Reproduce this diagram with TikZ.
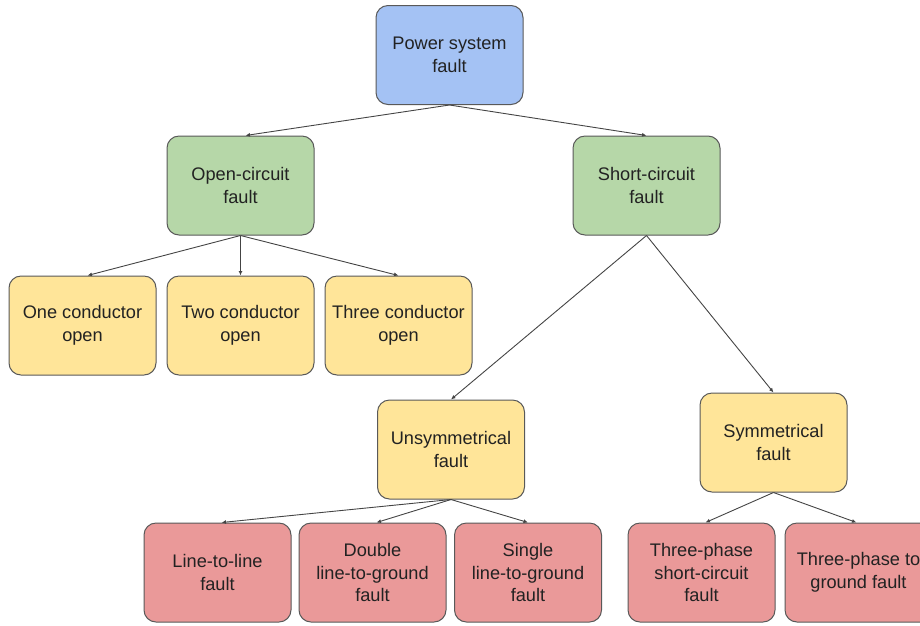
\documentclass[tikz,border=0pt]{standalone}
\usepackage{fontspec}
\setmainfont{Liberation Sans}
\usetikzlibrary{arrows.meta}
\definecolor{bluefill}{HTML}{A4C2F4}
\definecolor{greenfill}{HTML}{B6D7A8}
\definecolor{yellowfill}{HTML}{FFE599}
\definecolor{redfill}{HTML}{EA9999}
\definecolor{edgegray}{HTML}{595959}
\definecolor{linegray}{HTML}{444444}
\definecolor{textdark}{HTML}{222222}
\begin{document}
\begin{tikzpicture}[x=1pt,y=-1pt,
  box/.style={draw=edgegray, line width=1pt, rounded corners=12pt,
    minimum width=147pt, minimum height=99pt, inner sep=0pt,
    align=center, text=textdark, font=\fontsize{18.2}{22.5}\selectfont},
  link/.style={draw=linegray, line width=0.9pt,
    -{Latex[length=4.5pt,width=4pt]}}
]
\useasboundingbox (0,0) rectangle (920,625);
\clip (0,0) rectangle (920,625);

% level 0
\node[box, fill=bluefill] (root) at (449.5,55) {Power system\\fault};

% level 1
\node[box, fill=greenfill] (open)  at (240.5,185.5) {Open-circuit\\fault};
\node[box, fill=greenfill] (short) at (646.5,185.5) {Short-circuit\\fault};

% open-circuit children
\node[box, fill=yellowfill] (one)   at (82.5,325.5)  {One conductor\\open};
\node[box, fill=yellowfill] (two)   at (240.5,325.5) {Two conductor\\open};
\node[box, fill=yellowfill] (three) at (398.5,325.5) {Three conductor\\open};

% short-circuit children
\node[box, fill=yellowfill] (unsym) at (451,449.5)   {Unsymmetrical\\fault};
\node[box, fill=yellowfill] (sym)   at (773.5,442.5) {Symmetrical\\fault};

% unsymmetrical faults
\node[box, fill=redfill] (ll)  at (217.5,572.5) {Line-to-line\\fault};
\node[box, fill=redfill] (dlg) at (372.5,572.5) {Double\\line-to-ground\\fault};
\node[box, fill=redfill] (slg) at (528,572.5)   {Single\\line-to-ground\\fault};

% symmetrical faults
\node[box, fill=redfill] (tpsc) at (701.5,572.5) {Three-phase\\short-circuit\\fault};
\node[box, fill=redfill] (tpg)  at (858.5,572.5) {Three-phase to\\ground fault};

% connectors
\draw[link] (root.south) -- ([xshift=5pt]open.north);
\draw[link] (root.south) -- (short.north);
\draw[link] (open.south) -- ([xshift=5pt]one.north);
\draw[link] (open.south) -- (two.north);
\draw[link] (open.south) -- (three.north);
\draw[link] (short.south) -- (unsym.north);
\draw[link] (short.south) -- (sym.north);
\draw[link] (unsym.south) -- ([xshift=4pt]ll.north);
\draw[link] (unsym.south) -- ([xshift=4pt]dlg.north);
\draw[link] (unsym.south) -- (slg.north);
\draw[link] (sym.south) -- ([xshift=4pt]tpsc.north);
\draw[link] (sym.south) -- ([xshift=-2pt]tpg.north);
\end{tikzpicture}
\end{document}
